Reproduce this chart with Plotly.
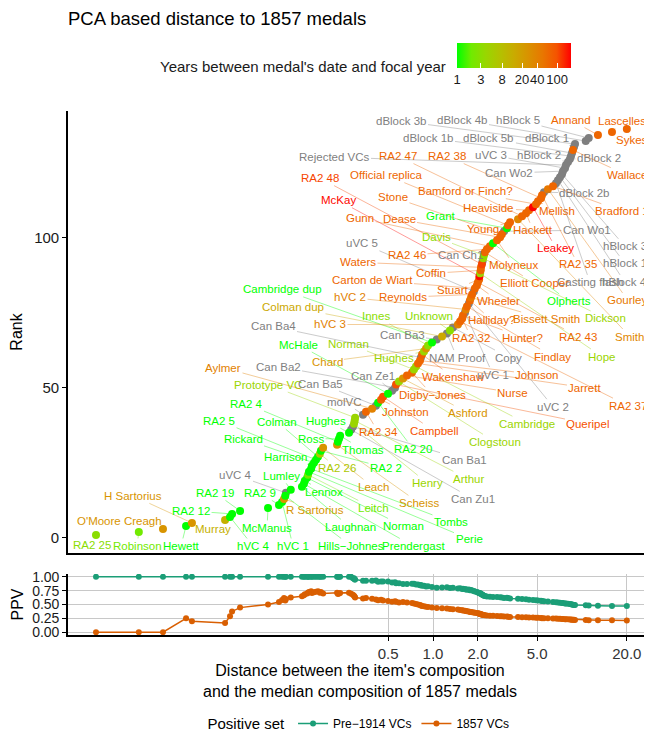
import math
import plotly.graph_objects as go

# ---------------- data ----------------
names = [
    "RA2 25", "Robinson", "O'Moore Creagh", "Hewett", "H Sartorius", "Murray", "hVC 4", "RA2 12", "RA2 19", "McManus",
    "RA2 9", "hVC 1", "R Sartorius", "Hills\u2212Johnes", "uVC 4", "Lumley", "Laughnan", "Prendergast", "Lennox", "Norman",
    "Leitch", "Perie", "Tombs", "Harrison", "Rickard", "RA2 5", "Colman", "RA2 26", "RA2 2", "Leach",
    "Scheiss", "RA2 4", "Ross", "Thomas", "Hughes", "Can Zu1", "Can Ba1", "Henry", "Arthur", "Prototype VC",
    "molVC", "RA2 34", "Aylmer", "Can Ba5", "RA2 20", "Johnston", "Campbell", "McHale", "Can Ze1", "Can Ba2",
    "Queripel", "Clogstoun", "Ashford", "Nurse", "Digby\u2212Jones", "Norman", "Cambridge", "Jarrett", "Johnson", "Can Ba4",
    "Wakenshaw", "Hughes", "Chard", "Innes", "Cambridge dup", "Can Ba3", "Colman dup", "NAM Proof", "Unknown", "Copy",
    "hVC 3", "RA2 37", "RA2 32", "Hunter?", "uVC 1", "hVC 2", "Findlay", "uVC 2", "Halliday?", "Bissett Smith",
    "Reynolds", "uVC 5", "Carton de Wiart", "Wheeler", "RA2 43", "Stuart", "McKay", "Hope", "Coffin", "Waters",
    "RA2 48", "Can Ch1", "Dickson", "Davis", "Elliott Cooper", "RA2 46", "Gunn", "Olpherts", "Molyneux", "Dease",
    "Stone", "Can Wo1", "Grant", "Official replica", "Young", "Smith", "RA2 47", "Hackett", "Heaviside", "Leakey",
    "Bamford or Finch?", "Mellish", "RA2 38", "RA2 35", "dBlock 2b", "Gourley", "Bradford 1", "Casting flash", "hBlock 4", "hBlock 1",
    "hBlock 3", "Can Wo2", "uVC 3", "Rejected VCs", "hBlock 2", "dBlock 2", "dBlock 1b", "dBlock 5b", "Wallace", "dBlock 1",
    "dBlock 3b", "dBlock 4b", "hBlock 5", "Annand", "Lascelles", "Sykes",
]

# years between medal's date and focal year (None = unknown -> grey)
years = [
    3, 2, 25, 1, 25, 12, 1, 1, 1, 1,
    1, 1, 25, 1, None, 1, 1, 1, 1, 1,
    2, 1, 1, 1, 1, 1, 1, 6, 1, 25,
    25, 1, 1, 1, 1, None, None, 4, 4, 4,
    None, 70, 40, None, 1, 70, 100, 1, None, None,
    100, 4, 25, 70, 70, 4, 4, 70, 70, None,
    80, 4, 25, 3, 1, None, 15, None, 3, None,
    40, 70, 70, 70, None, 40, 70, None, 70, 50,
    70, None, 70, 70, 70, 70, 180, 4, 70, 70,
    110, None, 4, 3, 70, 70, 70, 1, 70, 70,
    70, None, 1, 70, 70, 35, 70, 70, 70, 190,
    70, 70, 70, 70, None, 50, 70, None, None, None,
    None, None, None, None, None, None, None, None, 70, None,
    None, None, None, 70, 70, 70,
]

# distance between item's composition and median composition of 1857 medals
distance = [
    0.00547, 0.0106, 0.0154, 0.0220, 0.0241, 0.0402, 0.0434, 0.0448, 0.0507, 0.0781,
    0.0925, 0.0970, 0.100, 0.102, 0.103, 0.111, 0.132, 0.136, 0.138, 0.143,
    0.145, 0.147, 0.152, 0.154, 0.159, 0.164, 0.169, 0.174, 0.177, 0.183,
    0.227, 0.230, 0.234, 0.238, 0.273, 0.282, 0.290, 0.295, 0.298, 0.300,
    0.339, 0.355, 0.390, 0.414, 0.428, 0.448, 0.462, 0.499, 0.531, 0.556,
    0.565, 0.591, 0.629, 0.669, 0.723, 0.745, 0.769, 0.793, 0.818, 0.830,
    0.844, 0.870, 0.898, 0.926, 0.985, 1.06, 1.15, 1.24, 1.30, 1.36,
    1.47, 1.52, 1.57, 1.59, 1.64, 1.66, 1.69, 1.74, 1.77, 1.80,
    1.83, 1.88, 1.91, 1.97, 2.00, 2.04, 2.05, 2.07, 2.09, 2.10,
    2.13, 2.15, 2.17, 2.20, 2.23, 2.30, 2.41, 2.53, 2.69, 2.82,
    2.90, 3.00, 3.14, 3.19, 3.29, 3.72, 3.96, 4.21, 4.41, 4.69,
    4.91, 5.07, 5.31, 5.39, 5.56, 5.91, 6.39, 6.69, 6.90, 7.12,
    7.34, 7.45, 7.69, 7.81, 8.06, 8.30, 8.44, 8.57, 8.70, 8.84,
    8.98, 10.6, 11.1, 12.8, 15.9, 20.0,
]

rank = list(range(1, len(names) + 1))

ppv_pre1914 = [
    1.0, 1.0, 1.0, 1.0, 1.0, 1.0, 1.0, 1.0, 1.0, 1.0,
    1.0, 1.0, 1.0, 1.0, 1.0, 1.0, 1.0, 1.0, 1.0, 1.0,
    1.0, 1.0, 1.0, 1.0, 1.0, 1.0, 1.0, 1.0, 1.0, 1.0,
    1.0, 1.0, 1.0, 1.0, 1.0, 1.0,
    .973, .974, .949, .95, .927, .929, .93, .932, .911, .913,
    .915, .917, .898, .9, .882, .885, .868, .87, .873, .875,
    .86, .862, .847, .85, .836, .839, .825, .828, .815, .803,
    .806, .809, .797, .8, .789, .792, .781, .784, .773, .776,
    .766, .769, .759, .763, .753, .744, .735, .726, .718, .709,
    .701, .705, .697, .689, .681, .674, .667, .66, .653, .646,
    .639, .633, .636, .63, .624, .618, .621, .615, .61, .604,
    .598, .593, .587, .582, .577, .571, .566, .561, .557, .552,
    .547, .542, .538, .533, .529, .525, .52, .516, .512, .508,
    .504, .5, .496, .492, .489, .485, .481, .478, .474, .471,
]

ppv_1857 = [
    0, 0, 0, .25, .2, .167, .286, .375, .444, .5,
    .545, .583, .615, .571, .6, .625, .647, .667, .684, .7,
    .714, .727, .739, .708, .72, .731, .741, .714, .724, .7,
    .71, .688, .697, .706, .714, .694, .676, .658, .641, .625,
    .61, .619, .605, .591, .578, .587, .574, .563, .551, .56,
    .549, .538, .547, .537, .527, .518, .509, .5, .492, .483,
    .475, .468, .46, .453, .446, .439, .433, .426, .42, .414,
    .408, .403, .397, .392, .387, .382, .377, .372, .367, .363,
    .358, .354, .349, .345, .341, .337, .333, .33, .326, .322,
    .319, .315, .312, .309, .305, .302, .299, .296, .293, .29,
    .287, .284, .282, .279, .276, .274, .271, .269, .266, .264,
    .261, .259, .257, .254, .252, .25, .248, .246, .244, .242,
    .24, .238, .236, .234, .232, .23, .228, .227, .225, .223,
    .221, .22, .218, .216, .215, .213,
]

colorbar_ticks = [1, 3, 8, 20, 40, 100]

# ---------------- label layout (repelled label centres, reference px) ----------------
LABEL_PX = [
    (92, 545), (137, 546), (119, 521), (181, 546), (133, 496), (213, 529), (253, 546), (191, 511), (215, 493), (267, 528),
    (260, 493), (293, 546), (315, 510), (351, 546), (235, 475), (281, 476), (350, 527), (413, 546), (324, 492), (403, 526),
    (373, 508), (469, 539), (451, 522), (285, 457), (243, 439), (219, 421), (277, 422), (337, 468), (386, 468), (373, 487),
    (419, 503), (246, 404), (311, 439), (363, 450), (326, 421), (473, 499), (464, 460), (427, 483), (468, 479), (268, 385),
    (344, 402), (378, 432), (223, 368), (320, 384), (413, 449), (405, 412), (434, 431), (298, 345), (373, 376), (278, 367),
    (588, 424), (495, 442), (468, 413), (513, 393), (432, 395), (348, 344), (527, 424), (585, 388), (537, 375), (273, 327),
    (453, 377), (394, 358), (327, 362), (376, 317), (282, 290), (402, 335), (293, 308), (457, 358), (429, 317), (509, 358),
    (330, 325), (628, 406), (471, 338), (523, 338), (493, 375), (350, 298), (553, 357), (553, 407), (492, 321), (547, 320),
    (403, 298), (362, 244), (372, 281), (499, 302), (578, 337), (452, 291), (338, 201), (602, 357), (431, 274), (358, 263),
    (320, 179), (460, 256), (606, 319), (436, 238), (535, 284), (407, 256), (360, 219), (569, 302), (514, 266), (399, 220),
    (393, 198), (587, 231), (441, 217), (386, 176), (483, 230), (630, 337), (398, 157), (533, 231), (489, 209), (556, 249),
    (465, 192), (557, 212), (447, 157), (578, 265), (585, 194), (628, 301), (622, 212), (590, 283), (625, 283), (625, 264),
    (625, 247), (509, 174), (491, 156), (334, 158), (539, 156), (599, 159), (428, 139), (489, 139), (627, 176), (547, 139),
    (401, 122), (462, 121), (518, 121), (571, 121), (622, 122), (632, 141),
]
# reference pixel calibration -> data coordinates for the label anchors
PX_X_AT_1, PX_PER_DECADE = 433.0, 149.0
PX_Y_AT_0, PX_PER_RANK = 538.0, 3.0

# page layout: the html body adds an 8px offset, so the figure is sized/placed to compensate
OFF = 8
W, H = 652 - OFF, 733 - OFF
PLOT_L, PLOT_T, PLOT_B = 68, 111, 635          # page px
PLOT_H = PLOT_B - PLOT_T
PLOT_W = 652 - PLOT_L

# ---------------- colours ----------------
CMAX = math.log10(190)
STOPS = [
    [0.0, "#00FF00"], [0.125, "#70EB00"], [0.25, "#98D700"], [0.375, "#B3C200"],
    [0.5, "#C9AB00"], [0.625, "#D99200"], [0.75, "#E87700"], [0.875, "#F55300"], [1.0, "#FF0000"],
]
GREY = (127, 127, 127)


def _rgb(h):
    return tuple(int(h[i:i + 2], 16) for i in (1, 3, 5))


def colour_of(v, alpha=1.0):
    if v is None:
        r, g, bl = GREY
    else:
        t = min(max(math.log10(v) / CMAX, 0.0), 1.0)
        r, g, bl = _rgb(STOPS[-1][1])
        for (t0, c0), (t1, c1) in zip(STOPS, STOPS[1:]):
            if t <= t1:
                f = (t - t0) / (t1 - t0)
                a, b = _rgb(c0), _rgb(c1)
                r, g, bl = [round(a[k] + (b[k] - a[k]) * f) for k in range(3)]
                break
    return f"rgba({r},{g},{bl},{alpha})"


FONT = "Liberation Sans, Arial, Helvetica, sans-serif"
TEAL = "#1B9E77"
ORANGE = "#D95F02"

fig = go.Figure()

col_idx = [i for i, v in enumerate(years) if v is not None]
grey_idx = [i for i, v in enumerate(years) if v is None]

fig.add_trace(go.Scatter(
    x=[distance[i] for i in grey_idx], y=[rank[i] for i in grey_idx],
    mode="markers", marker=dict(size=8, color="rgb(127,127,127)", line=dict(width=0)),
    xaxis="x", yaxis="y", showlegend=False, hoverinfo="skip",
))
fig.add_trace(go.Scatter(
    x=[distance[i] for i in col_idx], y=[rank[i] for i in col_idx],
    mode="markers",
    marker=dict(
        size=8, line=dict(width=0),
        color=[math.log10(years[i]) for i in col_idx],
        colorscale=STOPS, cmin=0, cmax=CMAX,
        colorbar=dict(
            orientation="h", x=(457 - PLOT_L) / PLOT_W, xanchor="left",
            y=(PLOT_B - 43) / PLOT_H, yanchor="top",
            len=114, lenmode="pixels", thickness=25, thicknessmode="pixels",
            xpad=0, ypad=0, outlinewidth=0,
            tickvals=[math.log10(v) for v in colorbar_ticks],
            ticktext=[str(v) for v in colorbar_ticks],
            tickangle=0,
            ticks="inside", ticklen=5, tickcolor="white", tickwidth=1.2,
            tickfont=dict(size=13, color="#1a1a1a", family=FONT),
        ),
    ),
    xaxis="x", yaxis="y", showlegend=False, hoverinfo="skip",
))

# PPV panel
fig.add_trace(go.Scatter(
    x=distance, y=ppv_pre1914, mode="lines+markers", name="Pre\u22121914 VCs",
    line=dict(color=TEAL, width=1.5), marker=dict(color=TEAL, size=6),
    xaxis="x2", yaxis="y2", hoverinfo="skip",
))
fig.add_trace(go.Scatter(
    x=distance, y=ppv_1857, mode="lines+markers", name="1857 VCs",
    line=dict(color=ORANGE, width=1.5), marker=dict(color=ORANGE, size=6),
    xaxis="x2", yaxis="y2", hoverinfo="skip",
))

annotations = []
for i, name in enumerate(names):
    px, py = LABEL_PX[i]
    annotations.append(dict(
        x=math.log10(distance[i]), y=rank[i], xref="x", yref="y",
        ax=(px - PX_X_AT_1) / PX_PER_DECADE, ay=(PX_Y_AT_0 - py) / PX_PER_RANK,
        axref="x", ayref="y",
        text=name, showarrow=True, arrowhead=0, arrowwidth=0.8,
        arrowcolor=colour_of(years[i], 0.5), standoff=3,
        font=dict(size=11.5, color=colour_of(years[i]), family=FONT),
    ))

annotations.append(dict(
    text="Years between medal's date and focal year", xref="paper", yref="paper",
    x=(448 - PLOT_L) / PLOT_W, y=(PLOT_B - 67) / PLOT_H, xanchor="right", yanchor="middle",
    showarrow=False, font=dict(size=15, color="#1a1a1a", family=FONT),
))

axis_common = dict(showline=True, linecolor="black", linewidth=1.6, zeroline=False, automargin=False)

fig.update_layout(
    width=W, height=H,
    margin=dict(l=PLOT_L - OFF, r=0, t=PLOT_T - OFF, b=H - (PLOT_B - OFF), autoexpand=False),
    paper_bgcolor="white", plot_bgcolor="white",
    font=dict(family=FONT, color="#1a1a1a"),
    title=dict(text="PCA based distance to 1857 medals", x=(PLOT_L - OFF) / W, xanchor="left",
               xref="container", y=1 - (19 - OFF) / H, yref="container", yanchor="middle",
               font=dict(size=18.5, color="black", family=FONT)),
    xaxis=dict(type="log", range=[-2.45, 1.47], domain=[0, 1], anchor="y",
               showticklabels=False, ticks="", showgrid=False, **axis_common),
    xaxis2=dict(type="log", range=[-2.45, 1.47], domain=[0, 1], anchor="y2", matches="x",
                tickvals=[0.5, 1, 2, 5, 20], ticktext=["0.5", "1.0", "2.0", "5.0", "20.0"],
                ticks="outside", ticklen=4, tickcolor="black", tickwidth=1.2,
                tickfont=dict(size=15, color="#333333"),
                showgrid=True, gridcolor="#c8c8c8", gridwidth=1.2,
                title=dict(text="Distance between the item's composition<br>and the median composition of 1857 medals",
                           font=dict(size=16, color="black"), standoff=4),
                **axis_common),
    yaxis=dict(domain=[(PLOT_B - 553) / PLOT_H, 1], anchor="x", range=[-5, 142],
               tickvals=[0, 50, 100], ticks="outside", ticklen=4, tickcolor="black", tickwidth=1.2,
               tickfont=dict(size=15, color="#1a1a1a"), showgrid=False,
               title=dict(text="Rank", font=dict(size=16, color="black"), standoff=9),
               **axis_common),
    yaxis2=dict(domain=[0, (PLOT_B - 574) / PLOT_H], anchor="x2", range=[-0.05, 1.05],
                tickvals=[0, 0.25, 0.5, 0.75, 1.0], ticktext=["0.00", "0.25", "0.50", "0.75", "1.00"],
                ticks="outside", ticklen=4, tickcolor="black", tickwidth=1.2,
                tickfont=dict(size=14, color="#1a1a1a"),
                showgrid=True, gridcolor="#c8c8c8", gridwidth=1.2,
                title=dict(text="PPV", font=dict(size=16, color="black"), standoff=5),
                **axis_common),
    legend=dict(orientation="h", x=0.5, xanchor="center", y=(PLOT_B - 724) / PLOT_H, yanchor="middle",
                title=dict(text="Positive set", side="left", font=dict(size=15, color="black")),
                font=dict(size=12, color="black"), itemwidth=30, bgcolor="rgba(0,0,0,0)",
                tracegroupgap=0),
    annotations=annotations,
    hovermode=False,
)

fig.write_html("out.html")
